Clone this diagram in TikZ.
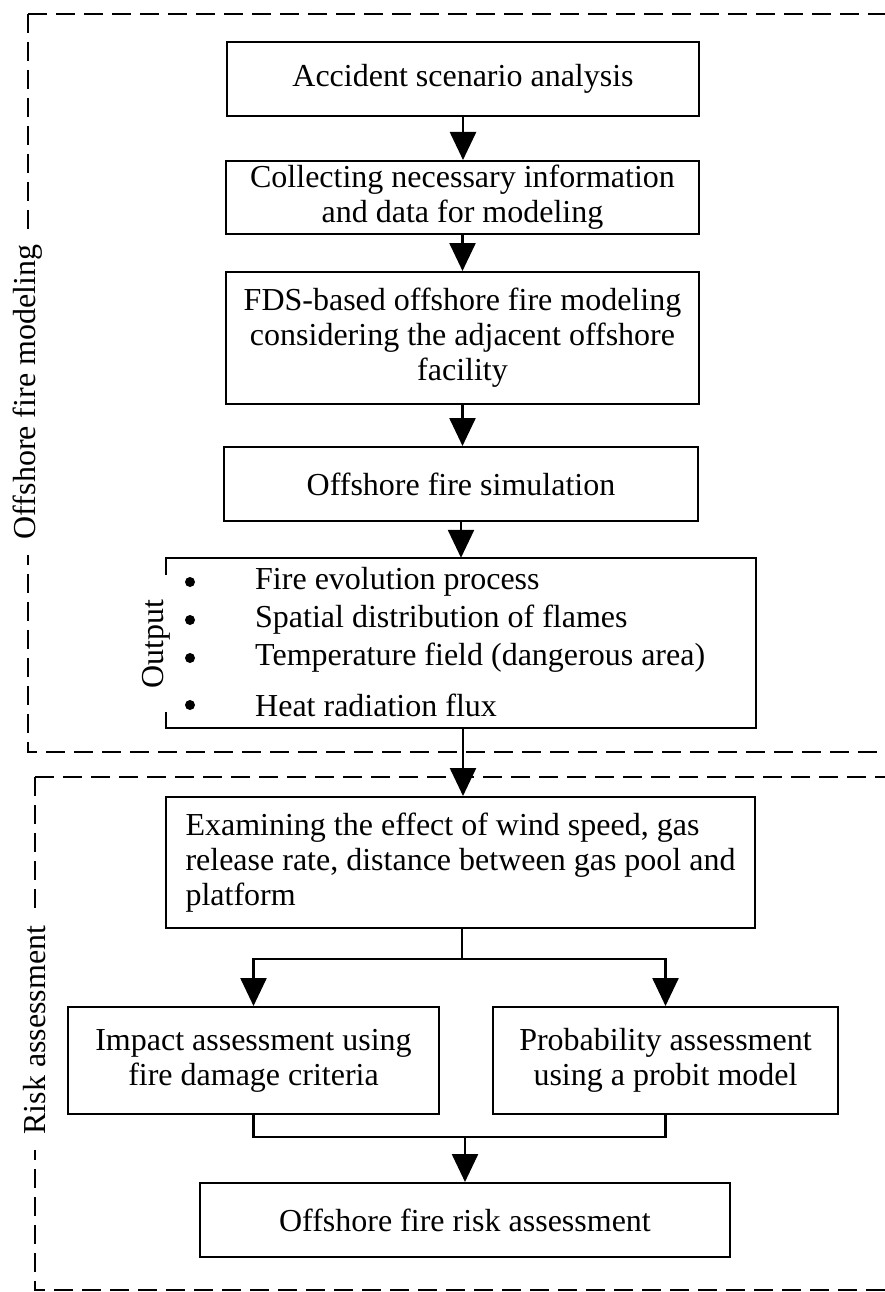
\documentclass[tikz,border=0pt]{standalone}
\usepackage{fontspec}
\setmainfont{Liberation Serif}
\usetikzlibrary{arrows.meta,calc}
\newcommand\diagfont{\fontsize{32}{35}\selectfont}
\begin{document}
\begin{tikzpicture}[x=1pt,y=-1pt,
  box/.style={draw,line width=2pt,align=center,inner sep=0pt,font=\diagfont},
  txt/.style={inner sep=0pt,font=\diagfont},
  dot/.style={circle,fill,inner sep=0pt,minimum size=10pt},
  arr/.style={line width=2.5pt,-{Triangle[width=26pt,length=28pt]}},
  ln/.style={line width=2.5pt},
  dashbox/.style={line width=2pt,dash pattern=on 19pt off 9pt},
  lab/.style={rotate=90,fill=white,font=\diagfont,inner xsep=16pt,inner ysep=2pt}
]
\useasboundingbox (0,0) rectangle (885,1292);

% dashed frames
\draw[dashbox] (28,14) -- (885,14);
\draw[dashbox] (28,14) -- (28,752) -- (885,752);
\draw[dashbox] (35,777) -- (885,777);
\draw[dashbox] (35,777) -- (35,1290) -- (885,1290);
\node[lab] (lab1) at (28,392) {Offshore fire modeling};
\node[lab] (lab2) at (35,1030) {Risk assessment};

% boxes
\node[box,minimum width=472pt,minimum height=74pt] (b1) at (463,79) {Accident scenario analysis};
\node[box,minimum width=473pt,minimum height=73pt] (b2) at (462.5,197.5) {Collecting necessary information\\and data for modeling};
\node[box,minimum width=473pt,minimum height=132pt] (b3) at (462.5,338) {FDS-based offshore fire modeling\\considering the adjacent offshore\\facility};
\node[box,minimum width=474pt,minimum height=74pt] (b4) at (461,484) {Offshore fire simulation};

% output box (open on the left)
\node[inner sep=0pt,minimum width=590pt,minimum height=170pt] (out) at (461,643) {};
\draw[line width=2pt] ([yshift=-17pt]out.north west) -- (out.north west) -- (out.north east) -- (out.south east) -- (out.south west) -- ([yshift=16pt]out.south west);
\node[rotate=90,txt] (olab) at (156,644) {Output};
\node[dot] (p1) at (190,582) {};
\node[dot] (p2) at (190,620) {};
\node[dot] (p3) at (190,658) {};
\node[dot] (p4) at (190,705) {};
\node[txt,anchor=west] (t1) at (255,582) {Fire evolution process};
\node[txt,anchor=west] (t2) at (255,620) {Spatial distribution of flames};
\node[txt,anchor=west] (t3) at (255,658) {Temperature field (dangerous area)};
\node[txt,anchor=west] (t4) at (255,705) {Heat radiation flux};

\node[box,align=left,minimum width=589pt,minimum height=131pt] (b6) at (460.5,862.5) {Examining the effect of wind speed, gas\\release rate, distance between gas pool and\\platform};
\node[box,minimum width=371pt,minimum height=107pt] (b7) at (253.5,1060.5) {Impact assessment using\\fire damage criteria};
\node[box,minimum width=345pt,minimum height=107pt] (b8) at (665.5,1060.5) {Probability assessment\\using a probit model};
\node[box,minimum width=530pt,minimum height=74pt] (b9) at (465,1220) {Offshore fire risk assessment};

% connectors
\draw[arr] (b1.south) -- (b1.south |- b2.north);
\draw[arr] (b2.south) -- (b2.south |- b3.north);
\draw[arr] (b3.south) -- (b3.south |- b4.north);
\draw[arr] (b4.south) -- (b4.south |- out.north);
\draw[arr] (out.south -| b1.south) -- (b6.north -| b1.south);
\coordinate (br) at (462,959);
\draw[ln] (b6.south -| br) -- (br);
\draw[arr] (br) -| (b7.north);
\draw[arr] (br) -| (b8.north);
\coordinate (jn) at (465,1137);
\draw[ln] (b7.south) -- (b7.south |- jn) -- (b8.south |- jn) -- (b8.south);
\draw[arr] (jn) -- (jn |- b9.north);
\end{tikzpicture}
\end{document}
